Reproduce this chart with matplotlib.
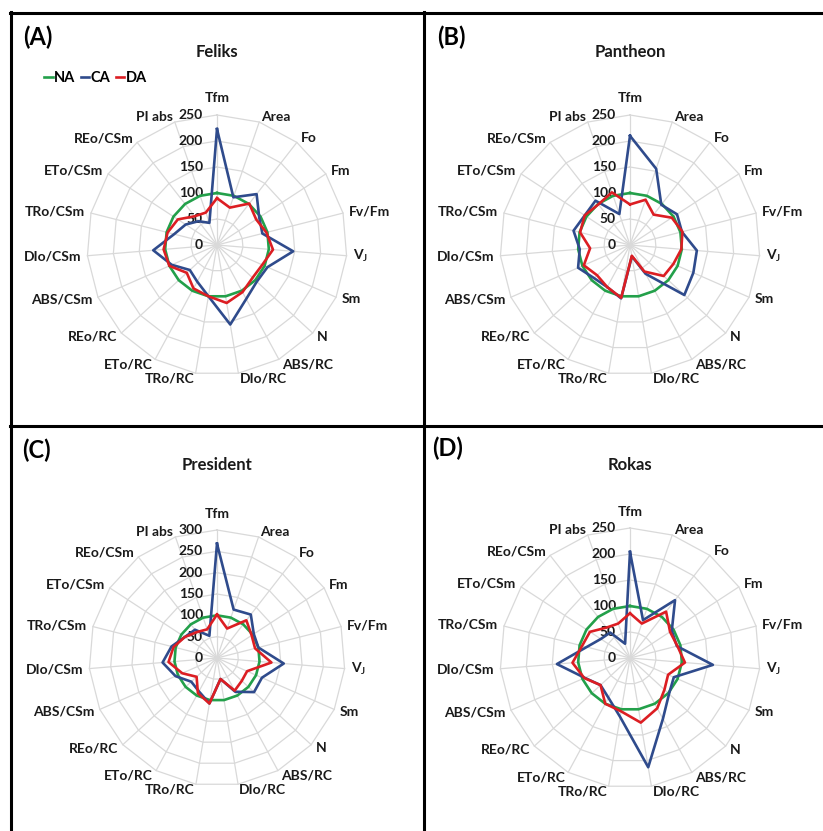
#!/usr/bin/env python3
"""
plot.py

Four radar charts (Feliks, Pantheon, President, Rokas) comparing
chlorophyll fluorescence parameters under NA, CA and DA treatments
(values relative to NA = 100).
"""

import numpy as np
import matplotlib.pyplot as plt
from matplotlib.lines import Line2D

# -----------------------------
# Fonts
# -----------------------------
plt.rcParams["font.family"] = ["Lato", "DejaVu Sans"]
plt.rcParams["font.weight"] = "bold"
plt.rcParams["mathtext.fontset"] = "custom"
plt.rcParams["mathtext.rm"] = "Lato:bold"
plt.rcParams["mathtext.it"] = "Lato:bold"
plt.rcParams["mathtext.bf"] = "Lato:bold"

# -----------------------------
# Data
# -----------------------------
PARAMS = ["Tfm", "Area", "Fo", "Fm", "Fv/Fm", r"V$_\mathrm{J}$", "Sm", "N",
          "ABS/RC", "DIo/RC", "TRo/RC", "ETo/RC", "REo/RC", "ABS/CSm",
          "DIo/CSm", "TRo/CSm", "ETo/CSm", "REo/CSm", "PI abs"]

NA = [100, 100, 100, 100, 100, 100, 100, 100, 100, 100,
      100, 100, 100, 100, 100, 100, 100, 100, 100]

feliks_ca = [223, 97, 124, 97, 90, 147, 106, 104, 118, 155,
             100, 80, 71, 95, 123, 85, 72, 58, 45]
feliks_da = [90, 76, 101, 90, 98, 108, 95, 93, 103, 113,
             100, 95, 79, 100, 103, 98, 90, 70, 66]

pantheon_ca = [210, 155, 98, 108, 103, 129, 133, 142, 63, 22,
               104, 92, 94, 109, 97, 112, 104, 108, 63]
pantheon_da = [78, 92, 74, 96, 104, 99, 91, 88, 58, 21,
               103, 92, 86, 97, 77, 99, 104, 99, 107]

president_ca = [268, 120, 129, 103, 100, 157, 115, 118, 90, 50,
                108, 89, 82, 106, 128, 110, 90, 84, 55]
president_da = [102, 73, 112, 97, 92, 128, 77, 79, 87, 50,
                108, 94, 65, 89, 114, 105, 90, 77, 71]

rokas_ca = [204, 77, 141, 96, 93, 160, 92, 102, 133, 213,
            115, 87, 77, 95, 141, 86, 67, 62, 29]
rokas_da = [86, 70, 113, 92, 94, 106, 80, 90, 110, 126,
            104, 100, 77, 96, 111, 95, 92, 74, 70]

TITLES = ["Feliks", "Pantheon", "President", "Rokas"]
LETTERS = ["(A)", "(B)", "(C)", "(D)"]
RMAX = [250, 250, 300, 250]
CA = [feliks_ca, pantheon_ca, president_ca, rokas_ca]
DA = [feliks_da, pantheon_da, president_da, rokas_da]

# -----------------------------
# Layout / style
# -----------------------------
W, H = 823, 831
COL_NA = "#23a04a"
COL_CA = "#2f4b8c"
COL_DA = "#dc1e23"
GRID = "#d9d9d9"
TXT = "#1a1a1a"

# panel centres in pixels (from top-left), radius of outer ring
CENTERS = [(217, 245), (630, 245), (217, 658), (630, 658)]
RADIUS = [130, 130, 128, 130]
LETTER_POS = [(23, 37), (437, 37), (22, 450), (432, 448)]

fig = plt.figure(figsize=(W / 100, H / 100), dpi=100)
theta = np.linspace(0, 2 * np.pi, len(PARAMS), endpoint=False)
theta_c = np.append(theta, theta[0])


def radar(k):
    cx, cy = CENTERS[k]
    R = RADIUS[k]
    rmax = RMAX[k]
    ax = fig.add_axes([(cx - R) / W, (H - cy - R) / H, 2 * R / W, 2 * R / H],
                      projection="polar")
    ax.set_theta_zero_location("N")
    ax.set_theta_direction(-1)
    ax.set_ylim(0, rmax)
    ax.set_axis_off()

    # polygon grid + spokes
    for r in range(50, rmax + 1, 50):
        ax.plot(theta_c, [r] * len(theta_c), color=GRID, lw=0.9, zorder=1,
                clip_on=False)
    for t in theta:
        ax.plot([t, t], [0, rmax], color=GRID, lw=0.9, zorder=1, clip_on=False)

    # radial tick labels
    for v in range(0, rmax + 1, 50):
        ax.annotate(str(v), xy=(0, v), xytext=(-14, 0), textcoords="offset pixels",
                    ha="right", va="center", fontsize=10, color=TXT, zorder=2)

    # series
    for vals, col in ((NA, COL_NA), (CA[k], COL_CA), (DA[k], COL_DA)):
        ax.plot(theta_c, np.append(vals, vals[0]), color=col, lw=1.9,
                zorder=3, clip_on=False)

    # parameter labels
    for i, name in enumerate(PARAMS):
        a = np.pi / 2 - theta[i]
        c, s = np.cos(a), np.sin(a)
        if abs(c) < 0.05:
            ha = "center"
        else:
            ha = "left" if c > 0 else "right"
        dy = 5.5 * s + (11 if i == 0 else 0)
        ax.annotate(name, xy=(theta[i], rmax), xytext=(6 * c, dy),
                    textcoords="offset pixels", ha=ha, va="center",
                    fontsize=10, color=TXT, annotation_clip=False)

    fig.text(cx / W, 1 - (cy - 193) / H, TITLES[k], ha="center", va="center",
             fontsize=12, color=TXT)
    lx, ly = LETTER_POS[k]
    fig.text(lx / W, 1 - ly / H, LETTERS[k], ha="left", va="center",
             fontsize=17, color="black")


for k in range(4):
    radar(k)

# legend (panel A only)
handles = [Line2D([], [], color=c, lw=1.9) for c in (COL_NA, COL_CA, COL_DA)]
fig.legend(handles, ["NA", "CA", "DA"], loc="center left",
           bbox_to_anchor=(44 / W, 1 - 78 / H), ncol=3, frameon=False,
           handlelength=0.6, handletextpad=0.1, columnspacing=0.35,
           borderpad=0, borderaxespad=0, fontsize=10.5)

# panel frames
for (x0, y0, x1, y1) in [(10, 13, W, 13), (10, 426, W, 426),
                         (11, 12, 11, H), (424, 12, 424, H)]:
    fig.add_artist(Line2D([x0 / W, x1 / W], [1 - y0 / H, 1 - y1 / H],
                          transform=fig.transFigure, color="black", lw=2.2))

fig.savefig("out.png", dpi=100, facecolor="white")
